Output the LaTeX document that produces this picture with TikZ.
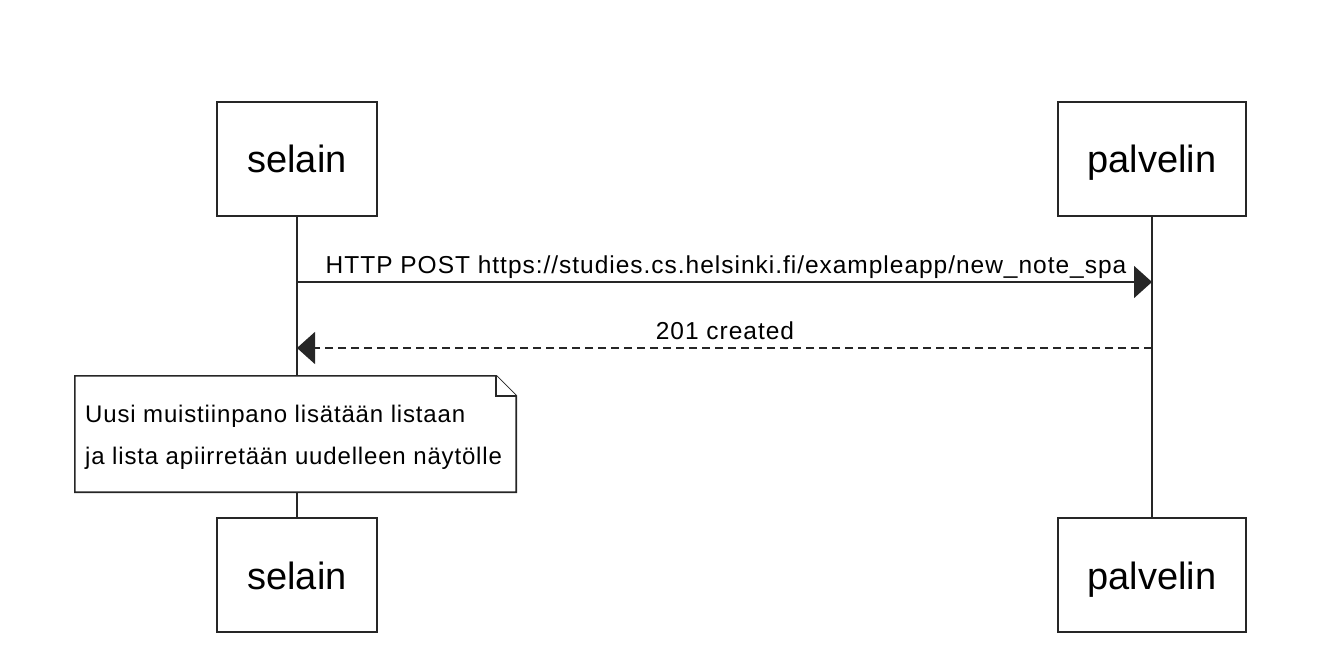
\documentclass[tikz,border=0pt]{standalone}
\usepackage{fontspec}
\setmainfont{Liberation Sans}
\usetikzlibrary{arrows.meta}
\begin{document}
\begin{tikzpicture}[x=1pt,y=-1pt,
  actor/.style={draw=black!85, line width=1.6pt, fill=white, inner sep=0pt,
    minimum height=114pt, text height=28pt, text depth=0pt, font=\fontsize{38}{44}\selectfont},
  lifeline/.style={draw=black!85, line width=1.6pt},
  msg/.style={draw=black!85, line width=1.6pt, -{Triangle[length=18pt,width=32pt]}},
  reply/.style={msg, dash pattern=on 8pt off 5pt},
  msglabel/.style={anchor=base, inner sep=0pt, font=\fontsize{24.5}{28}\selectfont\addfontfeature{LetterSpace=4}},
  notetext/.style={anchor=west, align=left, inner sep=0pt, font=\fontsize{24}{42}\selectfont\addfontfeature{LetterSpace=3.5}},
  noteframe/.style={draw=black!85, line width=1.6pt, fill=white, line join=miter}
]
\useasboundingbox (0,0) rectangle (1328,652);
% actors
\node[actor, minimum width=160pt] (s1) at (297,159) {selain};
\node[actor, minimum width=188pt] (p1) at (1152,159) {palvelin};
\node[actor, minimum width=160pt] (s2) at (297,575) {selain};
\node[actor, minimum width=188pt] (p2) at (1152,575) {palvelin};
% lifelines
\draw[lifeline] (s1.south) -- (s2.north);
\draw[lifeline] (p1.south) -- (p2.north);
% messages
\coordinate (m1a) at (s1.south |- 0,282);
\coordinate (m1b) at (p1.south |- 0,282);
\coordinate (m2a) at (p1.south |- 0,348);
\coordinate (m2b) at (s1.south |- 0,348);
\draw[msg] (m1a) -- (m1b);
\draw[reply] (m2a) -- (m2b);
\node[msglabel] (l1) at (726,274) {HTTP POST https://studies.cs.helsinki.fi/exampleapp/new\_note\_spa};
\node[msglabel] (l2) at (725,339) {201 created};
% note
\node[inner sep=0pt, minimum width=441pt, minimum height=116pt] (n) at (295.5,434) {};
\draw[noteframe] (n.north west) -- ([xshift=-20pt]n.north east) -- ([yshift=-20pt]n.north east)
  -- (n.south east) -- (n.south west) -- cycle;
\draw[noteframe] ([xshift=-20pt]n.north east) -- ([xshift=-20pt,yshift=-20pt]n.north east) -- ([yshift=-20pt]n.north east);
\node[notetext] (nt) at (85,437) {Uusi muistiinpano lisätään listaan\\ja lista apiirretään uudelleen näytölle};
\end{tikzpicture}
\end{document}
